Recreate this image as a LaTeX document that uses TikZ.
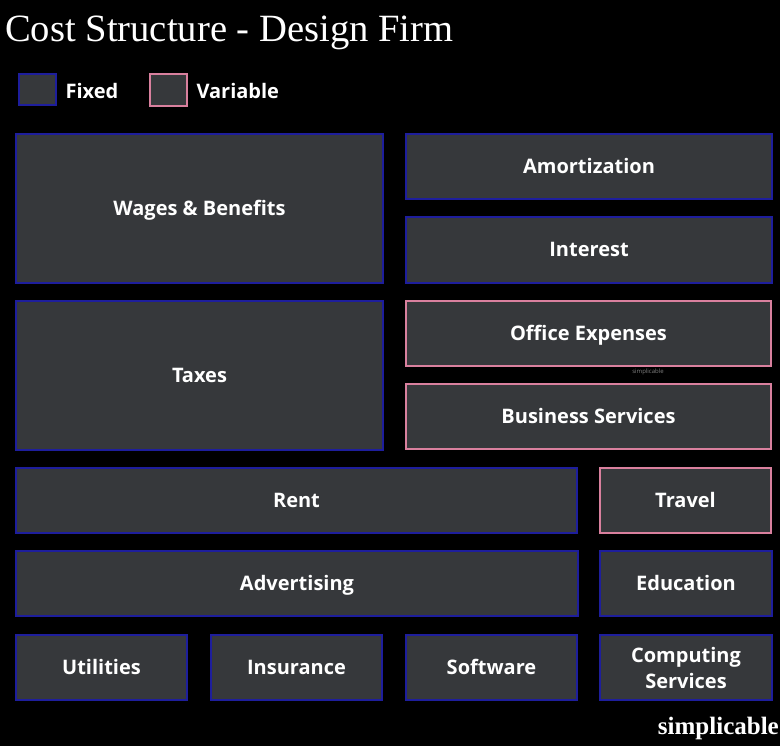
\documentclass[tikz,border=0pt]{standalone}
\usepackage{fontspec}
\setmainfont{Open Sans}
\newfontfamily\titlefont{Liberation Serif}
\definecolor{boxfill}{HTML}{36383B}
\definecolor{fixedline}{HTML}{1E1E9C}
\definecolor{varline}{HTML}{D9809E}
\tikzset{
  costbox/.style={draw, line width=1.8pt, fill=boxfill, text=white, inner sep=0pt, align=center,
    font=\fontsize{20}{26}\selectfont\bfseries},
  oneline/.style={text height=17pt, text depth=3pt},
  fixedbox/.style={costbox, draw=fixedline},
  varbox/.style={costbox, draw=varline},
  legendtext/.style={text=white, anchor=west, font=\fontsize{20}{24}\selectfont\bfseries},
}
\begin{document}
\begin{tikzpicture}[x=1pt,y=-1pt]
\fill[black] (0,0) rectangle (780,746);
\useasboundingbox (0,0) rectangle (780,746);
\node[anchor=base west, text=white, inner sep=0pt, font=\titlefont\fontsize{38.6}{42}\selectfont] (title) at (5,42) {Cost Structure - Design Firm};
% legend
\node[fixedbox, minimum width=37pt, minimum height=31pt] (lfixed) at (37.5,89.5) {};
\node[legendtext] (lfixedt) at (62,91) {Fixed};
\node[varbox, minimum width=37pt, minimum height=32pt] (lvar) at (168.5,90) {};
\node[legendtext] (lvart) at (193,91) {Variable};
% boxes
\node[fixedbox, oneline, minimum width=367pt, minimum height=149pt] (wages) at (199.5,208.5) {Wages \& Benefits};
\node[fixedbox, oneline, minimum width=366pt, minimum height=65pt] (amort) at (589,166.5) {Amortization};
\node[fixedbox, oneline, minimum width=366pt, minimum height=66pt] (interest) at (589,250) {Interest};
\node[fixedbox, oneline, minimum width=367pt, minimum height=149pt] (taxes) at (199.5,375.5) {Taxes};
\node[varbox, oneline, minimum width=365pt, minimum height=65pt] (office) at (588.5,333.5) {Office Expenses};
\node[varbox, oneline, minimum width=365pt, minimum height=65pt] (business) at (588.5,416.5) {Business Services};
\node[fixedbox, oneline, minimum width=561pt, minimum height=65pt] (rent) at (296.5,500.5) {Rent};
\node[varbox, oneline, minimum width=171pt, minimum height=65pt] (travel) at (685.5,500.5) {Travel};
\node[fixedbox, oneline, minimum width=562pt, minimum height=65pt] (advert) at (297,583.5) {Advertising};
\node[fixedbox, oneline, minimum width=172pt, minimum height=65pt] (educ) at (686,583.5) {Education};
\node[fixedbox, oneline, minimum width=171pt, minimum height=65pt] (util) at (101.5,667.5) {Utilities};
\node[fixedbox, oneline, minimum width=171pt, minimum height=65pt] (insur) at (296.5,667.5) {Insurance};
\node[fixedbox, oneline, minimum width=171pt, minimum height=65pt] (soft) at (491.5,667.5) {Software};
\node[fixedbox, minimum width=172pt, minimum height=65pt] (comp) at (686,667.5) {Computing\\Services};
% watermarks
\node[text=gray, font=\fontsize{6}{7}\selectfont, inner sep=0pt] (wm1) at (648,372) {simplicable};
\node[text=white, font=\titlefont\bfseries\fontsize{25}{28}\selectfont, inner sep=0pt, anchor=east] (wm2) at (779,728) {simplicable};
\end{tikzpicture}
\end{document}
